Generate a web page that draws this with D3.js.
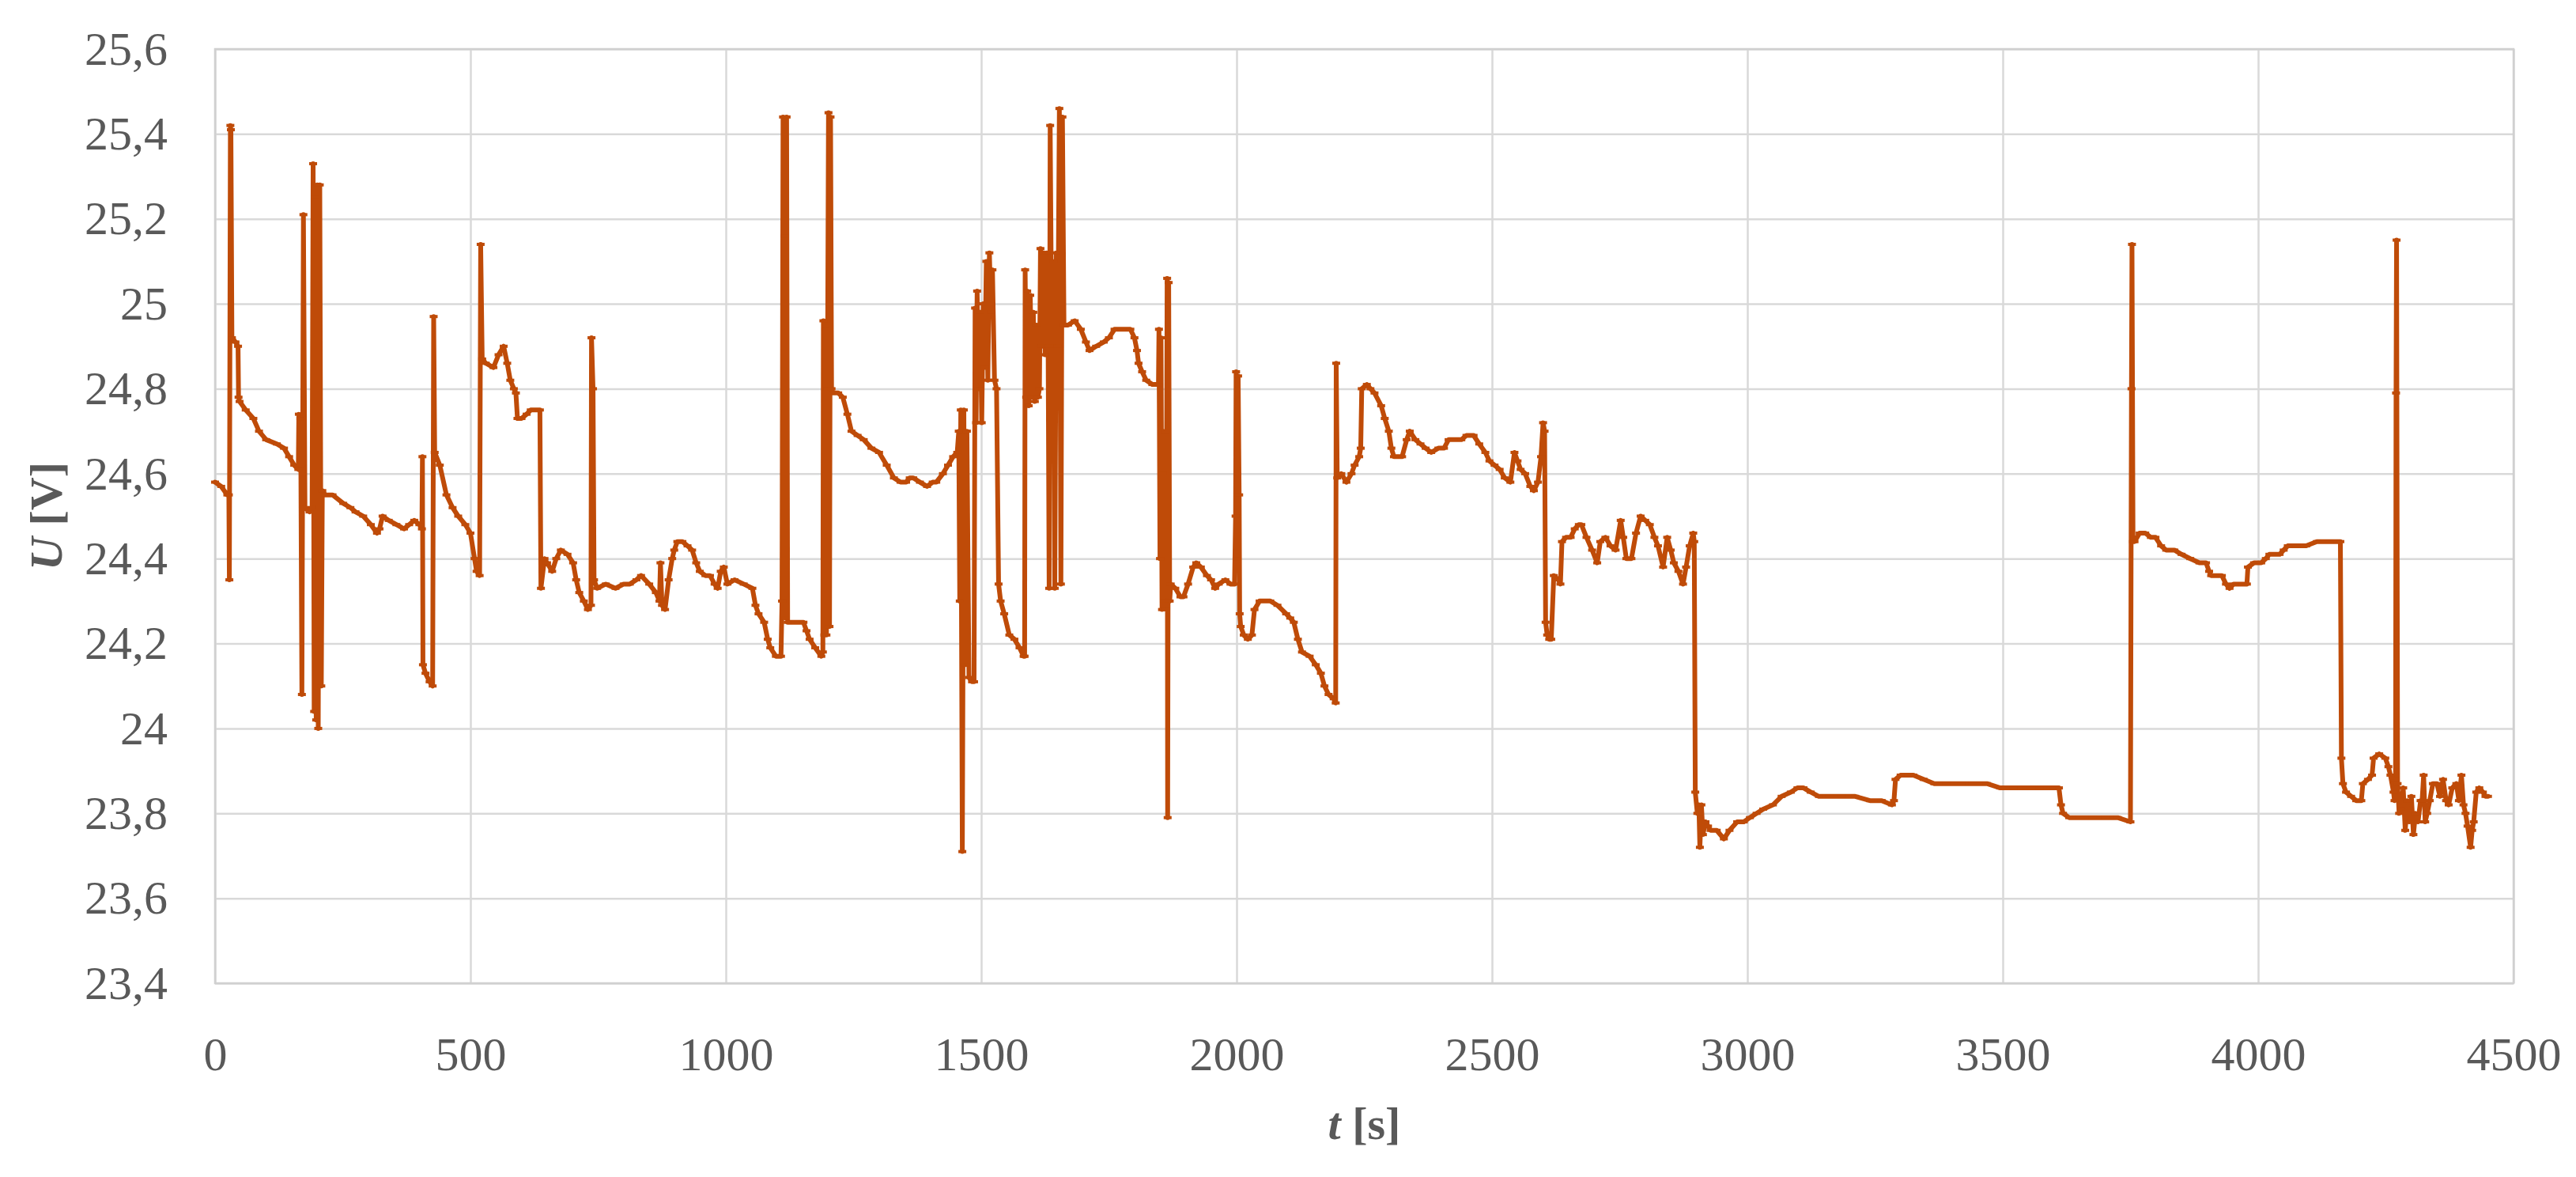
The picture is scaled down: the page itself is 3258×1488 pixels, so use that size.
<!DOCTYPE html>
<html><head><meta charset="utf-8">
<script src="https://cdn.jsdelivr.net/npm/d3@7"></script>
<style>body{margin:0;background:#fff;} svg{display:block;}</style>
</head><body><svg id="c" width="3258" height="1488"></svg>
<script>
// axis ticks
const xTicks = [0,500,1000,1500,2000,2500,3000,3500,4000,4500];
const yTicks = [23.4,23.6,23.8,24.0,24.2,24.4,24.6,24.8,25.0,25.2,25.4,25.6];
const xTitle = "t", xUnit = " [s]", yTitle = "U", yUnit = " [V]";

// measured series [t (s), U (V)] by time segments
const seg0 = [[0,24.58],[12,24.57],[24,24.55],[27,24.55],[28,24.35],[30,25.42],[31,25.41],[33,24.92],[40,24.91],[45,24.90],[46,24.78],[48,24.77],[60,24.75],[75,24.73],[86,24.70],[100,24.68],[121,24.67],[135,24.66],[145,24.64],[155,24.62],[163,24.61],[164,24.74],[167,24.73],[168,24.62],[170,24.08],[173,25.21],[176,24.52],[185,24.51],[190,24.52],[192,25.33],[194,24.04],[196,25.25],[198,24.02],[200,25.28],[202,24.00],[205,25.28],[208,24.10],[210,24.56],[216,24.55],[230,24.55],[251,24.53],[265,24.52],[275,24.51],[290,24.50],[305,24.48],[317,24.46],[322,24.47],[328,24.50],[340,24.49],[355,24.48],[370,24.47],[380,24.48],[390,24.49],[400,24.48],[405,24.47],[406,24.64],[407,24.15],[412,24.13],[420,24.11],[426,24.10],[428,24.97],[430,24.65],[440,24.62],[453,24.55],[465,24.52],[476,24.50],[490,24.48],[500,24.46],[508,24.40],[512,24.37],[518,24.36]];
const seg1 = [[520,25.14],[523,24.87],[530,24.86],[545,24.85],[555,24.88],[565,24.90],[572,24.86],[578,24.82],[585,24.80],[589,24.79],[592,24.73],[600,24.73],[610,24.74],[618,24.75],[636,24.75],[638,24.33],[645,24.40],[650,24.39],[660,24.37],[668,24.40],[677,24.42],[690,24.41],[701,24.39],[707,24.35],[713,24.32],[722,24.30],[730,24.28],[736,24.29],[737,24.92],[740,24.80],[742,24.35],[748,24.33],[765,24.34],[784,24.33],[800,24.34],[812,24.34],[825,24.35],[834,24.36],[850,24.34],[863,24.32],[870,24.30],[872,24.39],[875,24.29],[881,24.28],[888,24.35],[895,24.40],[899,24.42],[905,24.44],[915,24.44],[925,24.43],[934,24.42],[942,24.39],[949,24.37],[960,24.36],[969,24.36],[978,24.34],[984,24.33],[990,24.37],[996,24.38],[1003,24.34],[1017,24.35],[1035,24.34]];
const seg2 = [[1052,24.33],[1058,24.29],[1064,24.27],[1075,24.25],[1082,24.21],[1087,24.19],[1098,24.17],[1108,24.17],[1110,24.30],[1112,25.44],[1115,25.16],[1117,24.26],[1119,25.44],[1121,24.25],[1135,24.25],[1152,24.25],[1158,24.23],[1164,24.21],[1175,24.19],[1187,24.17],[1190,24.18],[1191,24.96],[1193,24.22],[1195,24.94],[1197,24.22],[1199,24.80],[1201,25.45],[1203,24.24],[1205,25.44],[1207,24.80],[1210,24.79],[1220,24.79],[1229,24.78],[1238,24.74],[1246,24.70],[1258,24.69],[1270,24.68],[1285,24.66],[1300,24.65],[1315,24.62],[1329,24.59],[1342,24.58],[1353,24.58],[1360,24.59],[1367,24.59],[1380,24.58],[1394,24.57],[1405,24.58],[1412,24.58],[1425,24.60],[1435,24.62],[1445,24.64],[1453,24.65]];
const seg3 = [[1456,24.70],[1458,24.30],[1460,24.75],[1463,23.71],[1466,24.75],[1468,24.15],[1472,24.70],[1476,24.12],[1482,24.11],[1486,24.11],[1488,24.99],[1490,24.72],[1492,25.03],[1495,24.80],[1498,24.98],[1501,24.72],[1504,25.00],[1507,24.85],[1510,25.10],[1513,24.82],[1516,25.12],[1519,24.98],[1522,25.08],[1526,24.82],[1530,24.80],[1534,24.34],[1538,24.30],[1545,24.27],[1555,24.22],[1565,24.21],[1575,24.19],[1583,24.17],[1585,24.17],[1586,25.08],[1588,24.78],[1590,25.03],[1593,24.76],[1596,25.02],[1599,24.78],[1602,24.98],[1605,24.77],[1608,24.95],[1611,24.78],[1614,24.80],[1616,25.13],[1619,24.90],[1622,25.12],[1625,24.88],[1628,25.12],[1631,24.90],[1633,24.33],[1635,25.42],[1638,24.90],[1641,25.10],[1644,24.33],[1647,25.12],[1650,24.90],[1653,25.46],[1656,24.34],[1659,25.44],[1662,24.95],[1670,24.95],[1683,24.96],[1695,24.94],[1705,24.91],[1712,24.89],[1725,24.90],[1740,24.91]];
const seg4 = [[1750,24.92],[1761,24.94],[1775,24.94],[1792,24.94],[1800,24.92],[1805,24.89],[1808,24.86],[1815,24.84],[1823,24.82],[1835,24.81],[1847,24.81],[1848,24.94],[1850,24.40],[1852,24.92],[1854,24.28],[1856,24.60],[1858,24.30],[1860,24.70],[1862,24.28],[1864,25.06],[1865,23.79],[1867,25.05],[1869,24.30],[1871,24.34],[1880,24.33],[1890,24.31],[1896,24.31],[1905,24.34],[1915,24.38],[1921,24.39],[1930,24.38],[1942,24.36],[1950,24.35],[1958,24.33],[1965,24.34],[1978,24.35],[1988,24.34],[1996,24.34],[1998,24.50],[1999,24.84],[2001,24.40],[2003,24.83],[2005,24.55],[2006,24.27],[2008,24.24],[2014,24.22],[2022,24.21],[2030,24.22],[2035,24.28],[2045,24.30],[2055,24.30],[2066,24.30],[2080,24.29],[2097,24.27],[2105,24.26],[2112,24.25],[2120,24.21],[2128,24.18],[2143,24.17],[2155,24.15],[2165,24.13],[2172,24.10],[2180,24.08],[2190,24.07],[2194,24.06]];
const seg5 = [[2195,24.86],[2197,24.59],[2205,24.60],[2215,24.58],[2225,24.60],[2231,24.62],[2240,24.64],[2243,24.66],[2245,24.80],[2255,24.81],[2262,24.80],[2270,24.79],[2283,24.76],[2290,24.73],[2298,24.70],[2303,24.66],[2308,24.64],[2318,24.64],[2324,24.64],[2333,24.68],[2339,24.70],[2350,24.68],[2360,24.67],[2370,24.66],[2381,24.65],[2395,24.66],[2406,24.66],[2415,24.68],[2427,24.68],[2440,24.68],[2450,24.69],[2464,24.69],[2475,24.67],[2487,24.65],[2495,24.63],[2505,24.62],[2515,24.61],[2525,24.59],[2536,24.58],[2544,24.65],[2550,24.63],[2556,24.61],[2565,24.60],[2575,24.57],[2582,24.56],[2590,24.58],[2596,24.64],[2600,24.72],[2603,24.70]];
const seg6 = [[2605,24.25],[2608,24.22],[2612,24.21],[2616,24.21],[2621,24.36],[2630,24.35],[2634,24.34],[2637,24.44],[2645,24.45],[2654,24.45],[2662,24.47],[2670,24.48],[2675,24.48],[2685,24.45],[2696,24.42],[2706,24.39],[2712,24.44],[2722,24.45],[2732,24.43],[2742,24.42],[2752,24.49],[2757,24.45],[2763,24.40],[2773,24.40],[2782,24.46],[2791,24.50],[2800,24.49],[2809,24.48],[2818,24.45],[2825,24.43],[2835,24.38],[2843,24.45],[2850,24.42],[2856,24.39],[2865,24.37],[2874,24.34],[2880,24.38],[2887,24.43],[2894,24.46],[2896,24.44]];
const seg7 = [[2898,23.85],[2902,23.80],[2905,23.82],[2907,23.72],[2910,23.82],[2913,23.75],[2918,23.78],[2923,23.77],[2928,23.76],[2940,23.76],[2954,23.74],[2965,23.76],[2980,23.78],[2993,23.78],[3005,23.79],[3018,23.80],[3031,23.81],[3050,23.82],[3067,23.84],[3085,23.85],[3098,23.86],[3110,23.86],[3124,23.85],[3140,23.84],[3160,23.84],[3185,23.84],[3211,23.84],[3240,23.83],[3263,23.83],[3283,23.82],[3287,23.83],[3290,23.88],[3300,23.89],[3325,23.89],[3345,23.88],[3366,23.87],[3390,23.87],[3418,23.87],[3440,23.87],[3469,23.87],[3495,23.86],[3521,23.86],[3545,23.86],[3572,23.86],[3600,23.86],[3610,23.86],[3614,23.82],[3618,23.80],[3630,23.79],[3650,23.79],[3675,23.79],[3701,23.79],[3725,23.79],[3750,23.78]];
const seg8 = [[3752,24.80],[3753,25.14],[3755,24.44],[3758,24.44],[3768,24.46],[3779,24.46],[3790,24.45],[3799,24.45],[3810,24.43],[3820,24.42],[3836,24.42],[3850,24.41],[3867,24.40],[3885,24.39],[3898,24.39],[3904,24.37],[3908,24.36],[3920,24.36],[3929,24.36],[3937,24.34],[3944,24.33],[3952,24.34],[3960,24.34],[3970,24.34],[3978,24.34],[3980,24.38],[3992,24.39],[4006,24.39],[4015,24.40],[4022,24.41],[4035,24.41],[4042,24.41],[4050,24.42],[4058,24.43],[4075,24.43],[4094,24.43],[4115,24.44],[4140,24.44],[4161,24.44]];
const seg9 = [[4163,23.93],[4166,23.87],[4172,23.85],[4182,23.84],[4192,23.83],[4202,23.83],[4205,23.87],[4215,23.88],[4223,23.89],[4226,23.93],[4237,23.94],[4249,23.93],[4255,23.91],[4259,23.89],[4265,23.85],[4267,23.83],[4269,23.88],[4270,24.79],[4271,25.15],[4273,23.87],[4276,23.80],[4280,23.81],[4284,23.86],[4288,23.76],[4292,23.83],[4296,23.78],[4300,23.84],[4304,23.75],[4308,23.80],[4313,23.78],[4318,23.83],[4321,23.83],[4324,23.89],[4327,23.78],[4331,23.80],[4336,23.83],[4342,23.87],[4350,23.87],[4356,23.84],[4362,23.88],[4368,23.83],[4373,23.82],[4380,23.86],[4388,23.87],[4393,23.83],[4398,23.89],[4402,23.82],[4406,23.80],[4410,23.77],[4416,23.72],[4419,23.76],[4422,23.78],[4427,23.85],[4433,23.86],[4440,23.85],[4445,23.84],[4450,23.84]];

const series = [].concat(seg0,seg1,seg2,seg3,seg4,seg5,seg6,seg7,seg8,seg9);

const svg = d3.select("#c");
const L=272, R=3179, T=62, B=1243;
const x = d3.scaleLinear().domain([0,4500]).range([L,R]);
const y = d3.scaleLinear().domain([23.4,25.6]).range([B,T]);
const font = "'Palatino Linotype','Book Antiqua',Palatino,'Liberation Serif',serif";
const textCol = "#595959", gridCol = "#d9d9d9";
const fmt = d => String(+d.toFixed(1)).replace(".", ",");

svg.append("rect").attr("width",3258).attr("height",1488).attr("fill","#fff");

const gy = svg.append("g").attr("transform",`translate(${L},0)`)
  .call(d3.axisLeft(y).tickValues(yTicks).tickSize(-(R-L)).tickPadding(60).tickFormat(fmt));
const gx = svg.append("g").attr("transform",`translate(0,${B})`)
  .call(d3.axisBottom(x).tickValues(xTicks).tickSize(-(B-T)).tickPadding(67).tickFormat(d3.format("d")));
[gx,gy].forEach(g=>{
  g.select(".domain").remove();
  g.selectAll(".tick line").attr("stroke",gridCol).attr("stroke-width",2.5);
  g.selectAll(".tick text").attr("fill",textCol).attr("font-family",font).attr("font-size",60);
});
svg.append("rect").attr("x",L).attr("y",T).attr("width",R-L).attr("height",B-T)
  .attr("fill","none").attr("stroke","#d0d0d0").attr("stroke-width",2.5);

const lineCol = "#bf4b08";
const line = d3.line().x(d=>x(d[0])).y(d=>y(d[1]));
svg.append("path").datum(series).attr("d",line).attr("fill","none")
  .attr("stroke",lineCol).attr("stroke-width",6).attr("stroke-linejoin","round").attr("stroke-linecap","round");
svg.append("g").selectAll("rect").data(series).join("rect")
  .attr("x",d=>x(d[0])-5).attr("y",d=>y(d[1])-2).attr("width",10).attr("height",4)
  .attr("fill",lineCol);

// axis titles
const xt = svg.append("text").attr("x",(L+R)/2).attr("y",1440).attr("text-anchor","middle")
  .attr("font-family",font).attr("font-size",58).attr("font-weight","bold").attr("fill",textCol);
xt.append("tspan").attr("font-style","italic").text(xTitle);
xt.append("tspan").text(xUnit);
const yt = svg.append("text").attr("transform",`translate(78,${(T+B)/2}) rotate(-90)`).attr("text-anchor","middle")
  .attr("font-family",font).attr("font-size",58).attr("font-weight","bold").attr("fill",textCol);
yt.append("tspan").attr("font-style","italic").text(yTitle);
yt.append("tspan").text(yUnit);
</script></body></html>
